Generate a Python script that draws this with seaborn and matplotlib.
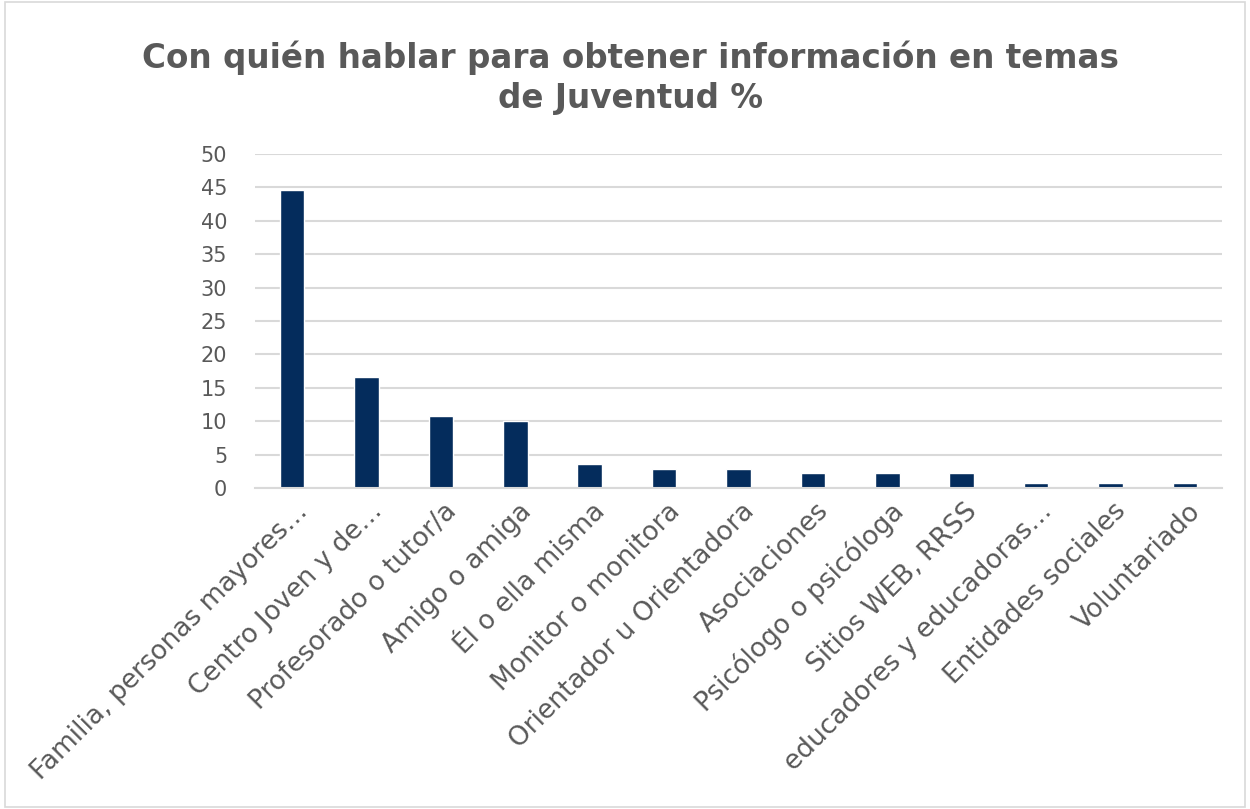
import matplotlib
matplotlib.use("Agg")
import matplotlib.pyplot as plt
import matplotlib.transforms as mtransforms
import seaborn as sns
import pandas as pd
from matplotlib.patches import Rectangle

categories = [
    "Familia, personas mayores…",
    "Centro Joven y de…",
    "Profesorado o tutor/a",
    "Amigo o amiga",
    "Él o ella misma",
    "Monitor o monitora",
    "Orientador u Orientadora",
    "Asociaciones",
    "Psicólogo o psicóloga",
    "Sitios WEB, RRSS",
    "educadores y educadoras…",
    "Entidades sociales",
    "Voluntariado",
]
values = [44.6, 16.6, 10.8, 10.1, 3.6, 2.9, 2.9, 2.2, 2.2, 2.2, 0.7, 0.7, 0.7]
yticks = [0, 5, 10, 15, 20, 25, 30, 35, 40, 45, 50]
title = "Con quién hablar para obtener información en temas\nde Juventud %"

sns.set_theme(style="white")
plt.rcParams['font.family'] = ['DejaVu Sans']

text_color = "#595959"
grid_color = "#D9D9D9"
bar_color = "#042C5C"

df = pd.DataFrame({"cat": categories, "val": values})

fig = plt.figure(figsize=(12.5, 8.09), dpi=100)
ax = fig.add_axes([0.204, 0.3968, 0.7736, 0.4128])

sns.barplot(data=df, x="cat", y="val", color=bar_color, width=0.33,
            saturation=1, ax=ax, zorder=3)

ax.set_ylim(0, 50)
ax.set_xlim(-0.5, len(categories) - 0.5)
ax.set_yticks(yticks)
ax.set_yticklabels([str(t) for t in yticks], fontsize=15, color=text_color)
ax.yaxis.grid(True, color=grid_color, linewidth=1.5, zorder=0)
ax.xaxis.grid(False)
for s in ["top", "right", "left"]:
    ax.spines[s].set_visible(False)
ax.spines["bottom"].set_color(grid_color)
ax.spines["bottom"].set_linewidth(1.5)
ax.spines["bottom"].set_zorder(4)
ax.tick_params(axis="y", length=0, pad=20)
ax.tick_params(axis="x", length=0, pad=4)
ax.set_xlabel("")
ax.set_ylabel("")
ax.set_xticks(range(len(categories)))
ax.set_xticklabels(categories, rotation=45, ha="right", va="center",
                   rotation_mode="anchor", fontsize=19, color=text_color)
offset = mtransforms.ScaledTranslation(12 / 100, -14 / 100, fig.dpi_scale_trans)
for lbl in ax.get_xticklabels():
    lbl.set_transform(lbl.get_transform() + offset)

fig.text(0.504, 0.904, title, ha="center", va="center", fontsize=23.5,
         fontweight="bold", color=text_color, linespacing=1.3)

fig.patches.append(Rectangle((0.004, 0.003), 0.992, 0.994, transform=fig.transFigure,
                             fill=False, edgecolor="#D9D9D9", linewidth=1.2))

fig.savefig("out.png", dpi=100)
